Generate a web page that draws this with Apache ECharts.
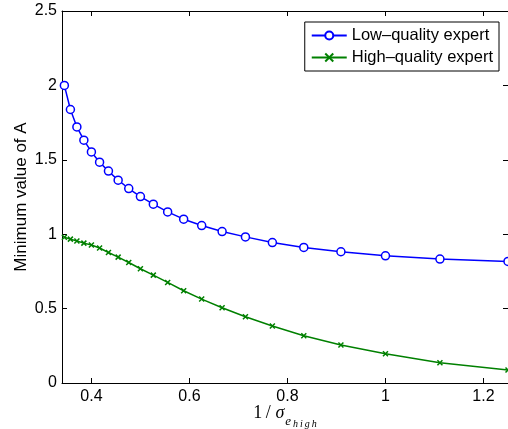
<!DOCTYPE html>
<html><head><meta charset="utf-8">
<script src="https://cdn.jsdelivr.net/npm/echarts@6/dist/echarts.min.js"></script>
<style>html,body{margin:0;padding:0;background:#fff}#c{width:508px;height:429px}</style>
</head><body><div id="c"></div>
<script>
const sigmaHigh = [2.9,2.8,2.7,2.6,2.5,2.4,2.3,2.2,2.1,2.0,1.9,1.8,1.7,1.6,1.5,1.4,1.3,1.2,1.1,1.0,0.9,0.8];
const lowQuality = [2.0,1.838,1.721,1.632,1.553,1.484,1.424,1.363,1.307,1.253,1.202,1.15,1.101,1.058,1.018,0.982,0.944,0.911,0.882,0.855,0.833,0.817];
const highQuality = [0.98,0.967,0.954,0.94,0.927,0.907,0.877,0.846,0.81,0.768,0.725,0.676,0.62,0.564,0.506,0.445,0.383,0.318,0.255,0.197,0.136,0.087];
const xTicks = [0.4,0.6,0.8,1,1.2];
const seriesNames = ['Low\u2013quality expert','High\u2013quality expert'];

const xVals = sigmaHigh.map(s => 1/s);
const font = 'Liberation Sans, Arial, Helvetica, sans-serif';
const serif = 'Liberation Serif, DejaVu Serif, serif';
const chart = echarts.init(document.getElementById('c'));
const baseX = {
  type:'value', min:0.34, max:1.25,
  axisLine:{show:true, onZero:false, lineStyle:{color:'#000', width:1}},
  splitLine:{show:false},
  axisTick:{inside:true, length:5, customValues:xTicks, lineStyle:{color:'#000'}},
  axisLabel:{customValues:xTicks, color:'#000', fontSize:16, fontFamily:font, margin:6}
};
const baseY = {
  type:'value', min:0, max:2.5, interval:0.5,
  axisLine:{show:true, onZero:false, lineStyle:{color:'#000', width:1}},
  splitLine:{show:false},
  axisTick:{inside:true, length:5, lineStyle:{color:'#000'}},
  axisLabel:{color:'#000', fontSize:16, fontFamily:font, margin:5}
};
chart.setOption({
  animation:false,
  grid:{left:62, top:11, right:0, bottom:46, outerBoundsMode:'none', containLabel:false},
  legend:{
    orient:'vertical', right:9, top:22, itemWidth:35, itemHeight:10, itemGap:5,
    padding:[5,6,5,6], borderColor:'#000', borderWidth:1, backgroundColor:'#fff',
    textStyle:{fontSize:16.5, fontFamily:font, color:'#000'},
    data: seriesNames
  },
  xAxis:[
    Object.assign({}, baseX, {
      position:'bottom', nameMoveOverlap:false,
      name:'{a|1\u2009/\u2009}{b|σ}{c|e}{d|h\u2009i\u2009g\u2009h}', nameLocation:'middle', nameGap:21,
      nameTextStyle:{verticalAlign:'top', rich:{
        a:{fontFamily:serif, fontSize:18, color:'#000', verticalAlign:'bottom', padding:[0,0,7,0]},
        b:{fontFamily:serif, fontStyle:'italic', fontSize:18, color:'#000', verticalAlign:'bottom', padding:[0,1,7,1]},
        c:{fontFamily:serif, fontStyle:'italic', fontSize:13, color:'#000', verticalAlign:'bottom', padding:[0,2,1,0]},
        d:{fontFamily:serif, fontStyle:'italic', fontSize:10, color:'#000', verticalAlign:'bottom', padding:[0,0,0,0]}
      }}
    }),
    Object.assign({}, baseX, {position:'top', axisLabel:{show:false}})
  ],
  yAxis:[
    Object.assign({}, baseY, {
      position:'left', nameMoveOverlap:false, name:'Minimum value of A', nameLocation:'middle', nameGap:32,
      nameTextStyle:{fontSize:17, fontFamily:font, color:'#000'}
    }),
    Object.assign({}, baseY, {position:'right', axisLabel:{show:false}})
  ],
  series:[
    {name:seriesNames[0], type:'line', data:xVals.map((x,i)=>[x,lowQuality[i]]),
     symbol:'circle', symbolSize:8, showSymbol:true,
     lineStyle:{color:'#0000ff', width:1.5},
     itemStyle:{color:'#fff', borderColor:'#0000ff', borderWidth:1.5}},
    {name:seriesNames[1], type:'line', data:xVals.map((x,i)=>[x,highQuality[i]]),
     symbol:'path://M0,0L10,10M10,0L0,10', symbolSize:5, showSymbol:true,
     lineStyle:{color:'#008000', width:1.5},
     itemStyle:{color:'#008000', borderColor:'#008000', borderWidth:1.5}}
  ]
});
</script></body></html>
